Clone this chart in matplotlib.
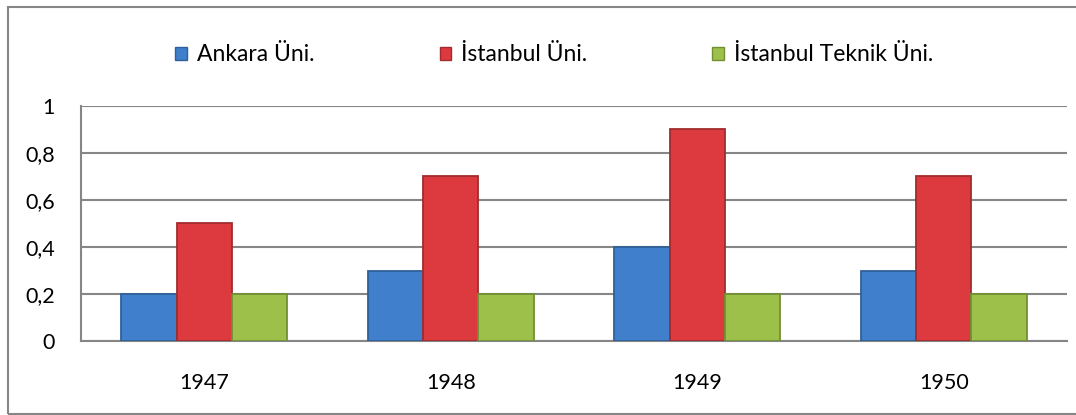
import matplotlib
matplotlib.use("Agg")
import matplotlib.pyplot as plt
import numpy as np
from matplotlib.patches import Rectangle, Patch

# Data
years = ["1947", "1948", "1949", "1950"]
series_names = ["Ankara Üni.", "İstanbul Üni.", "İstanbul Teknik Üni."]
ankara = [0.2, 0.3, 0.4, 0.3]
istanbul = [0.5, 0.7, 0.9, 0.7]
itu = [0.2, 0.2, 0.2, 0.2]
y_ticks = [0, 0.2, 0.4, 0.6, 0.8, 1]
y_tick_labels = ["0", "0,2", "0,4", "0,6", "0,8", "1"]

fill_colors = ["#3f7fcc", "#dc3a3e", "#9cc04a"]
edge_colors = ["#2f6099", "#a02c2e", "#728f33"]

plt.rcParams['font.family'] = ['Lato', 'DejaVu Sans']

fig = plt.figure(figsize=(10.76, 4.15), dpi=100)
ax = fig.add_axes([0.0753, 0.1783, 0.9163, 0.5663])

x = np.arange(len(years))
bar_w = 0.225
for i, vals in enumerate([ankara, istanbul, itu]):
    ax.bar(x + (i - 1) * bar_w, vals, width=bar_w, color=fill_colors[i],
           edgecolor=edge_colors[i], linewidth=1.3, zorder=3)

ax.set_xlim(-0.5, len(years) - 0.5)
ax.set_ylim(0, 1)
ax.set_yticks(y_ticks)
ax.set_yticklabels(y_tick_labels)
ax.set_xticks(x)
ax.set_xticklabels(years)
ax.tick_params(axis='both', length=0, labelsize=15.5, colors='black')
ax.tick_params(axis='y', pad=19)
ax.tick_params(axis='x', pad=23)

ax.grid(axis='y', color='#868686', linewidth=1.5, zorder=0)
for side in ['top', 'right']:
    ax.spines[side].set_visible(False)
for side in ['left', 'bottom']:
    ax.spines[side].set_color('#868686')
    ax.spines[side].set_linewidth(1.5)

# legend
handles = [Patch(facecolor=fill_colors[i], edgecolor=edge_colors[i])
           for i in range(3)]
fig.legend(handles, series_names, loc='center left', ncol=3,
           bbox_to_anchor=(0.163, 0.868), frameon=False, fontsize=16.5,
           handlelength=0.5, handleheight=0.5, handletextpad=0.45,
           columnspacing=5.45, borderaxespad=0, borderpad=0)

# outer chart border
fig.patches.append(Rectangle((8 / 1076, 1 / 415), 1.2, 1 - 8 / 415,
                             transform=fig.transFigure, fill=False,
                             edgecolor='#868686', linewidth=1.5))

fig.savefig("out.png", dpi=100)
